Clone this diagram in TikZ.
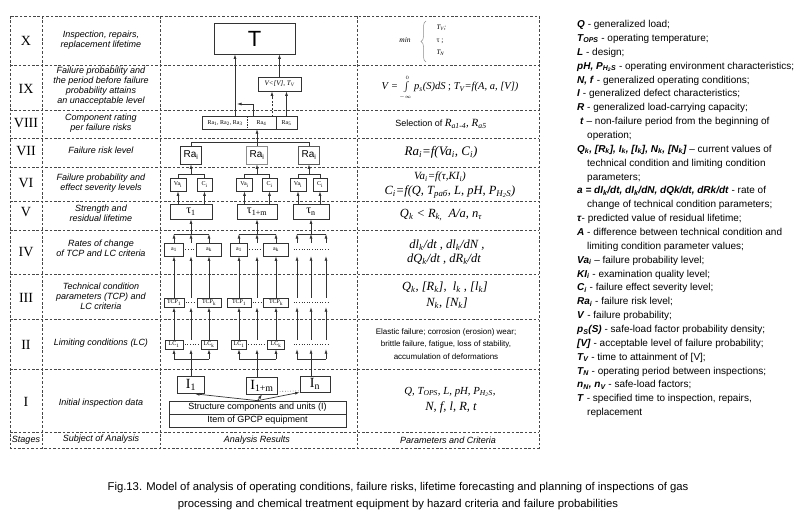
\documentclass[tikz,border=0pt]{standalone}
\usepackage{fontspec}
\setmainfont{Liberation Serif}
\setsansfont{Liberation Sans}
\usetikzlibrary{arrows.meta,decorations.pathreplacing}
\newcommand{\sbs}[1]{\textsubscript{#1}}
\newcommand{\fsz}[1]{\fontsize{#1}{#1}\selectfont}
\newcommand{\fszb}[2]{\fontsize{#1}{#2}\selectfont}
\newcommand{\bfit}[1]{\textbf{\textit{#1}}}
\newcommand{\legline}[3]{\node[legs, anchor=base west] (lg#1) at (#2,{27.6+13.86*(#1-1)}) {#3};}
\begin{document}
\begin{tikzpicture}[x=1pt,y=-1pt,
  grid/.style={draw=black!72, line width=0.6pt, dash pattern=on 2.6pt off 1.8pt},
  ln/.style={draw=black!80, line width=0.7pt},
  arr/.style={draw=black!80, line width=0.7pt, -{Latex[length=4.5pt,width=3pt]}},
  box/.style={draw=black!80, line width=0.7pt, inner sep=0pt, fill=white},
  tinyt/.style={font=\fsz{6}},
  roman/.style={font=\fsz{14}},
  subj/.style={font=\sffamily\itshape\fszb{9}{10}, align=center},
  prm/.style={font=\itshape\fsz{12.5}},
  legs/.style={font=\sffamily\fsz{10}, inner sep=0pt},
  dotl/.style={draw=black!80, line width=0.6pt, dotted},
]
\useasboundingbox (0,0) rectangle (800,522);

% ---------- grid ----------
\draw[grid] (10,16) rectangle (539,448);
\foreach \yy in {65,110,138,167,201,230,274,319,369,432} {\draw[grid] (10,\yy) -- (539,\yy);}
\foreach \xx in {42,160,357} {\draw[grid] (\xx,16) -- (\xx,448);}

% ---------- stages ----------
\node[roman] (sX) at (26,41) {X};
\node[roman] (sIX) at (26,89) {IX};
\node[roman] (sVIII) at (26,123) {VIII};
\node[roman] (sVII) at (26,151.5) {VII};
\node[roman] (sVI) at (26,183) {VI};
\node[roman] (sV) at (26,212.5) {V};
\node[roman] (sIV) at (26,252) {IV};
\node[roman] (sIII) at (26,297.5) {III};
\node[roman] (sII) at (26,344.5) {II};
\node[roman] (sI) at (26,402) {I};
\node[subj] (sStages) at (26,440) {Stages};

% ---------- subject of analysis ----------
\node[subj] (tX) at (101,39.7) {Inspection, repairs,\\replacement lifetime};
\node[subj] (tIX) at (101,86.5) {Failure probability and\\the period before failure\\probability attains\\an unacceptable level};
\node[subj] (tVIII) at (101,123) {Component rating\\per failure risks};
\node[subj] (tVII) at (101,150.7) {Failure risk level};
\node[subj] (tVI) at (101,183) {Failure probability and\\effect severity levels};
\node[subj] (tV) at (101,213) {Strength and\\residual lifetime};
\node[subj] (tIV) at (101,248.5) {Rates of change\\of TCP and LC criteria};
\node[subj] (tIII) at (101,296.5) {Technical condition\\parameters (TCP) and\\LC criteria};
\node[subj] (tII) at (101,342.7) {Limiting conditions (LC)};
\node[subj] (tI) at (101,402.7) {Initial inspection data};
\node[subj] (tSub) at (101,439.5) {Subject of Analysis};
\node[subj] (tAn) at (257,440) {Analysis Results};
\node[subj] (tPar) at (448,440) {Parameters and Criteria};

% ---------- analysis results: boxes ----------
\node[box, minimum width=81, minimum height=31, font=\sffamily\fsz{22}] (T) at (254.5,38.5) {T};
\node[box, minimum width=43, minimum height=14, font=\itshape\fsz{7}] (Vb) at (279.5,84) {V<[V], T\sbs{V}};

\node[inner sep=0pt, minimum width=44, minimum height=12, tinyt] (ra13) at (225,123) {Ra\sbs{1}, Ra\sbs{2}, Ra\sbs{3}};
\node[inner sep=0pt, minimum width=29, minimum height=12, tinyt] (ra4) at (261.5,123) {Ra\sbs{4}};
\node[inner sep=0pt, minimum width=21, minimum height=12, tinyt] (ra5) at (286.5,123) {Ra\sbs{5}};
\draw[ln] (ra13.north west) rectangle (ra5.south east);
\draw[ln] (ra4.north east) -- (ra4.south east);
\draw[ln, dash pattern=on 1.5pt off 1pt] (ra13.north east) -- (ra13.south east);

\node[box, minimum width=21, minimum height=18, font=\sffamily\fsz{10}] (rai1) at (191,155) {Ra\sbs{i}};
\node[box, draw=black!45, minimum width=21, minimum height=18, font=\sffamily\fsz{10}] (rai2) at (257,155) {Ra\sbs{i}};
\node[box, draw=black!65, minimum width=21, minimum height=18, font=\sffamily\fsz{10}] (rai3) at (309,155) {Ra\sbs{i}};

\node[box, minimum width=16, minimum height=13, tinyt] (va1) at (178,184.5) {Va\sbs{i}};
\node[box, minimum width=15, minimum height=13, tinyt] (c1) at (204.5,184.5) {C\sbs{i}};
\node[box, minimum width=16, minimum height=13, tinyt] (va2) at (244.5,184.5) {Va\sbs{i}};
\node[box, minimum width=15, minimum height=13, tinyt] (c2) at (269.5,184.5) {C\sbs{i}};
\node[box, minimum width=16, minimum height=13, tinyt] (va3) at (298,184.5) {Va\sbs{i}};
\node[box, minimum width=14, minimum height=13, tinyt] (c3) at (320,184.5) {C\sbs{i}};

\node[box, minimum width=42, minimum height=15, font=\fsz{12}] (tau1) at (191,211.5) {τ\sbs{1}};
\node[box, minimum width=40, minimum height=15, font=\fsz{12}] (tau2) at (257,211.5) {τ\sbs{1+m}};
\node[box, minimum width=36, minimum height=15, font=\fsz{12}] (tau3) at (311,211.5) {τ\sbs{n}};

\node[box, minimum width=19, minimum height=13, tinyt] (a11) at (174,249.5) {a\sbs{1}};
\node[box, minimum width=25, minimum height=13, tinyt] (ak1) at (209,249.5) {a\sbs{k}};
\node[box, minimum width=17, minimum height=13, tinyt] (a12) at (239,249.5) {a\sbs{1}};
\node[box, minimum width=25, minimum height=13, tinyt] (ak2) at (276,249.5) {a\sbs{k}};
\node[inner sep=0pt, minimum width=34, minimum height=13] (a3) at (311,249.5) {};

\node[box, minimum width=20, minimum height=9, tinyt] (t11) at (174,302.5) {TCP\sbs{1}};
\node[box, minimum width=24, minimum height=9, tinyt] (tk1) at (209,302.5) {TCP\sbs{k}};
\node[box, minimum width=24, minimum height=9, tinyt] (t12) at (239,302.5) {TCP\sbs{1}};
\node[box, minimum width=25, minimum height=9, tinyt] (tk2) at (276,302.5) {TCP\sbs{k}};
\node[inner sep=0pt, minimum width=34, minimum height=9] (t3) at (311,302.5) {};

\node[box, minimum width=18, minimum height=9, tinyt] (l11) at (174,344.5) {LC\sbs{1}};
\node[box, minimum width=16, minimum height=9, tinyt] (lk1) at (209,344.5) {LC\sbs{k}};
\node[box, minimum width=15, minimum height=9, tinyt] (l12) at (239,344.5) {LC\sbs{1}};
\node[box, minimum width=17, minimum height=9, tinyt] (lk2) at (276,344.5) {LC\sbs{k}};
\node[inner sep=0pt, minimum width=34, minimum height=9] (l3) at (311,344.5) {};

\node[box, minimum width=27, minimum height=17, font=\fsz{14}] (i1) at (191,385) {I\sbs{1}};
\node[box, minimum width=31, minimum height=17, font=\fsz{14}] (i2) at (262,385.5) {I\sbs{1+m}};
\node[box, minimum width=30, minimum height=16, font=\fsz{14}] (i3) at (315,384) {I\sbs{n}};
\node[box, minimum width=177, minimum height=13, font=\sffamily\fsz{9}] (st) at (257.5,407.5) {Structure components and units (I)};
\node[box, minimum width=177, minimum height=13, font=\sffamily\fsz{9}] (it) at (257.5,420.5) {Item of GPCP equipment};

% ---------- helper coordinates ----------
\coordinate (yb1) at (0,359);
\coordinate (yb2) at (0,234);
\coordinate (yb3) at (0,174);
\coordinate (yb4) at (0,142);
\coordinate (xr1) at (297,0);
\coordinate (xr3) at (326,0);
\coordinate (q1) at (253,104);
\coordinate (q2) at (237,104);
\coordinate (q3) at (272,0);
\coordinate (q4) at (235,0);

% ---------- dotted fillers ----------
\foreach \g in {1,2}{
  \draw[dotl] ([xshift=1.5pt]a1\g.east) -- ([xshift=-1.5pt]ak\g.west);
  \draw[dotl] ([xshift=1.5pt]t1\g.east) -- ([xshift=-1.5pt]tk\g.west);
  \draw[dotl] ([xshift=1.5pt]l1\g.east) -- ([xshift=-1.5pt]lk\g.west);
}
\draw[dotl] (a3.west) -- (a3.east);
\draw[dotl] (t3.west) -- (t3.east);
\draw[dotl] (l3.west) -- (l3.east);
\draw[dotl] ([xshift=2pt,yshift=3pt]i2.south east) -- ([xshift=-1pt,yshift=1.5pt]i3.south west);

% ---------- connectors, groups 1 and 2 ----------
\foreach \g in {1,2}{
  \draw[ln] (i\g.north -| tau\g.south) -- (yb1 -| tau\g.south);
  \draw[ln] (yb1 -| l1\g.south) -- (yb1 -| lk\g.south);
  \draw[arr] (yb1 -| l1\g.south) -- (l1\g.south);
  \draw[arr] (yb1 -| lk\g.south) -- (lk\g.south);
  \draw[arr] (yb1 -| tau\g.south) -- (l1\g.south -| tau\g.south);
  \draw[arr] (l1\g.north) -- (t1\g.south);
  \draw[arr] (lk\g.north) -- (tk\g.south);
  \draw[arr] (l1\g.north -| tau\g.south) -- (t1\g.south -| tau\g.south);
  \draw[arr] (t1\g.north) -- (a1\g.south);
  \draw[arr] (tk\g.north) -- (ak\g.south);
  \draw[arr] (t1\g.north -| tau\g.south) -- (a1\g.south -| tau\g.south);
  \draw[arr] (a1\g.north) -- (yb2 -| a1\g.north);
  \draw[arr] (ak\g.north) -- (yb2 -| ak\g.north);
  \draw[arr] (a1\g.north -| tau\g.south) -- (yb2 -| tau\g.south);
  \draw[ln] (yb2 -| a1\g.north) -- (yb2 -| ak\g.north);
  \draw[arr] (yb2 -| tau\g.south) -- (tau\g.south);
}
% ---------- group 3 ----------
\draw[ln] (i3.north -| tau3.south) -- (yb1 -| tau3.south);
\draw[ln] (yb1 -| xr1) -- (yb1 -| xr3);
\draw[ln] (yb2 -| xr1) -- (yb2 -| xr3);
\foreach \pp in {xr1,tau3.south,xr3}{
  \draw[arr] (yb1 -| \pp) -- (l3.south -| \pp);
  \draw[arr] (l3.north -| \pp) -- (t3.south -| \pp);
  \draw[arr] (t3.north -| \pp) -- (a3.south -| \pp);
  \draw[arr] (a3.north -| \pp) -- (yb2 -| \pp);
}
\draw[arr] (yb2 -| tau3.south) -- (tau3.south);

% ---------- tau -> Va, C -> Ra_i ----------
\foreach \g in {1,2,3}{
  \draw[arr] (tau\g.north -| va\g.south) -- (va\g.south);
  \draw[arr] (tau\g.north -| c\g.south) -- (c\g.south);
  \draw[ln] (va\g.north) -- (yb3 -| va\g.north) -- (yb3 -| c\g.north) -- (c\g.north);
  \draw[arr] (yb3 -| rai\g.south) -- (rai\g.south);
}
% ---------- Ra_i -> Ra row ----------
\draw[ln] (rai1.north) -- (yb4 -| rai1.north) -- (yb4 -| rai3.north) -- (rai3.north);
\draw[ln] (rai2.north) -- (yb4 -| rai2.north);
\draw[arr] (yb4 -| rai2.north) -- (ra4.south -| rai2.north);
% ---------- Ra row -> V, T ----------
\draw[arr] (ra13.north -| q4) -- (T.south -| q4);
\draw[arr] (ra4.north -| q1) -- (q1) -- (q2);
\draw[arr, dash pattern=on 2pt off 1.5pt] (ra4.north -| q3) -- (Vb.south -| q3);
\draw[arr] (ra5.north) -- (Vb.south -| ra5.north);
\draw[arr] (Vb.north) -- (T.south -| Vb.north);
% ---------- structure -> I ----------
\draw[arr] (st.north) -- ([xshift=4pt]i1.south);
\draw[arr] (st.north) -- (i2.south);
\draw[arr] (st.north) -- (i3.south west);

% ---------- parameters and criteria ----------
\node[font=\itshape\fsz{7.5}] (pmin) at (405,40) {min};
\draw[black!45, line width=0.5pt, decorate, decoration={brace,amplitude=5pt}] (426,62) -- (426,21);
\node[anchor=west, font=\itshape\fsz{7}] (ptv) at (433,28) {T\sbs{V};};
\node[anchor=west, font=\fsz{7.5}] (ptau) at (433,41) {τ ;};
\node[anchor=west, font=\itshape\fsz{7}] (ptn) at (433,53) {T\sbs{N}};

\node[font=\fsz{10.5}] (pIX) at (450,88) {\textit{V} = $\int\limits_{\scriptscriptstyle -\infty}^{\scriptscriptstyle 0}$\,\textit{p\sbs{s}(S)dS} ; \textit{T\sbs{V}=f(A, a, [V])}};
\node (pVIII) at (441,124) {{\sffamily\fsz{9}Selection of} {\itshape\fsz{11}R\sbs{a1-4}, R\sbs{a5}}};
\node[font=\itshape\fsz{13}] (pVII) at (441,152) {Ra\sbs{i}=f(Va\sbs{i}, C\sbs{i})};
\node[font=\itshape\fsz{11}] (pVI1) at (440,177) {Va\sbs{i}=f(τ,KI\sbs{i})};
\node[prm] (pVI2) at (450,192) {C\sbs{i}=f(Q, T\sbs{раб}, L, pH, P\sbs{H\sbs{2}S})};
\node[prm] (pV) at (441,215) {Q\sbs{k} < R\sbs{k,}\ \ A/a, n\sbs{τ}};
\node[prm] (pIV1) at (447,245) {dl\sbs{k}/dt , dl\sbs{k}/dN ,};
\node[prm] (pIV2) at (444,259) {dQ\sbs{k}/dt , dR\sbs{k}/dt};
\node[prm] (pIII1) at (445,287) {Q\sbs{k}, [R\sbs{k}], \ l\sbs{k} , [l\sbs{k}]};
\node[prm] (pIII2) at (447,303) {N\sbs{k}, [N\sbs{k}]};
\node[font=\sffamily\fszb{8}{12.5}, align=center] (pII) at (446,344) {Elastic failure; corrosion (erosion) wear;\\brittle failure, fatigue, loss of stability,\\accumulation of deformations};
\node[font=\itshape\fsz{10.8}] (pI1) at (450,392) {Q, T\sbs{OPS}, L, pH, P\sbs{H\sbs{2}S},};
\node[prm] (pI2) at (451,407) {N, f, l, R, t};

% ---------- legend ----------
\legline{1}{577}{\bfit{Q} - generalized load;}
\legline{2}{577}{\bfit{T\sbs{OPS}} - operating temperature;}
\legline{3}{577}{\bfit{L} -  design;}
\legline{4}{577}{\bfit{pH, P\sbs{H\sbs{2}S}} - operating environment characteristics;}
\legline{5}{577}{\bfit{N, f} - generalized operating conditions;}
\legline{6}{577}{\bfit{I} - generalized defect characteristics;}
\legline{7}{577}{\bfit{R} - generalized load-carrying capacity;}
\legline{8}{580}{\bfit{t} – non-failure period from the beginning of}
\legline{9}{587}{operation;}
\legline{10}{577}{\bfit{Q\sbs{k}, [R\sbs{k}], I\sbs{k}, [I\sbs{k}], N\sbs{k}, [N\sbs{k}]} – current values of}
\legline{11}{587}{technical condition and limiting condition}
\legline{12}{587}{parameters;}
\legline{13}{577}{\bfit{a = dI\sbs{k}/dt, dI\sbs{k}/dN, dQk/dt, dRk/dt} - rate of}
\legline{14}{587}{change of technical condition parameters;}
\legline{15}{577}{\bfit{τ}- predicted value of residual lifetime;}
\legline{16}{577}{\bfit{A} - difference between technical condition and}
\legline{17}{587}{limiting condition parameter values;}
\legline{18}{577}{\bfit{Va\sbs{i}} – failure probability level;}
\legline{19}{577}{\bfit{KI\sbs{i}} - examination quality level;}
\legline{20}{577}{\bfit{C\sbs{i}} - failure effect severity level;}
\legline{21}{577}{\bfit{Ra\sbs{i}} - failure risk level;}
\legline{22}{577}{\bfit{V} - failure probability;}
\legline{23}{577}{\bfit{p\sbs{S}(S)} - safe-load factor probability density;}
\legline{24}{577}{\bfit{[V]} - acceptable level of failure probability;}
\legline{25}{577}{\bfit{T\sbs{V}} - time to attainment of [V];}
\legline{26}{577}{\bfit{T\sbs{N}} - operating period between inspections;}
\legline{27}{577}{\bfit{n\sbs{N}, n\sbs{V}} - safe-load factors;}
\legline{28}{577}{\bfit{T} - specified time to inspection, repairs,}
\legline{29}{587}{replacement}

% ---------- caption ----------
\node[font=\sffamily\fsz{11.3}] (cap1) at (398,488) {Fig.13. Model of analysis of operating conditions, failure risks, lifetime forecasting and planning of inspections of gas};
\node[font=\sffamily\fsz{11.3}] (cap2) at (398,505) {processing and chemical treatment equipment by hazard criteria and failure probabilities};
\end{tikzpicture}
\end{document}
